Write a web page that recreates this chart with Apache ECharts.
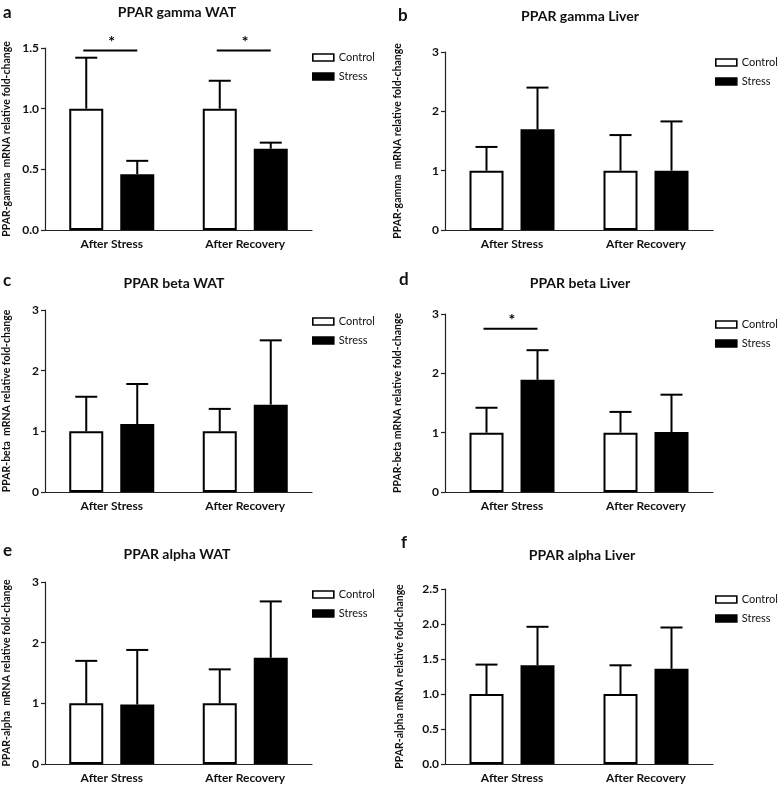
<!DOCTYPE html>
<html>
<head>
<meta charset="utf-8">
<script src="https://cdn.jsdelivr.net/npm/echarts@6/dist/echarts.min.js"></script>
<style>html,body{margin:0;padding:0;background:#fff}#c{width:780px;height:787px}</style>
</head>
<body>
<div id="c"></div>
<script>
// ---------- DATA ----------
const categories = ['After Stress', 'After Recovery'];
const groupNames = ['Control', 'Stress'];
const panelLetters = ['a', 'b', 'c', 'd', 'e', 'f'];
const panelTitles = ['PPAR gamma WAT', 'PPAR gamma Liver', 'PPAR beta WAT', 'PPAR beta Liver', 'PPAR alpha WAT', 'PPAR alpha Liver'];
const yAxisNames = [
  'PPAR-gamma  mRNA relative fold-change',
  'PPAR-gamma  mRNA relative fold-change',
  'PPAR-beta  mRNA relative fold-change',
  'PPAR-beta mRNA relative fold-change',
  'PPAR-alpha  mRNA relative fold-change',
  'PPAR-alpha mRNA relative fold-change'
];
// means [After Stress, After Recovery]
const controlMeans = [[1.0, 1.0], [1.0, 1.0], [1.0, 1.0], [1.0, 1.0], [1.0, 1.0], [1.0, 1.0]];
const stressMeans  = [[0.46, 0.67], [1.70, 1.0], [1.12, 1.44], [1.89, 1.01], [0.98, 1.75], [1.41, 1.36]];
// upper error-bar ends
const controlErrTop = [[1.42, 1.23], [1.40, 1.60], [1.57, 1.37], [1.42, 1.35], [1.70, 1.56], [1.42, 1.41]];
const stressErrTop  = [[0.57, 0.72], [2.40, 1.83], [1.78, 2.50], [2.39, 1.64], [1.88, 2.68], [1.96, 1.95]];
// y-axis ranges / tick steps
const yMax = [1.5, 3, 3, 3, 3, 2.5];
const yStep = [0.5, 1, 1, 1, 1, 0.5];
const yDecimals = [1, 0, 0, 0, 0, 1];
// significance brackets: [panel, category index, height]
const sigMarks = [[0, 0, 1.48], [0, 1, 1.48], [3, 0, 2.75]];

// ---------- LAYOUT ----------
const FONT = 'Lato, "Open Sans", sans-serif';
const grids = [
  {left: 39, top: 48, width: 273, height: 182},
  {left: 445, top: 52, width: 268, height: 178},
  {left: 39, top: 310, width: 273, height: 182},
  {left: 445, top: 314, width: 268, height: 178},
  {left: 39, top: 582, width: 273, height: 182},
  {left: 445, top: 589, width: 268, height: 175}
];
const nameGaps = [33, 42, 33, 42, 33, 40];
const titlePos = [[177, 12], [580, 16], [174, 283], [580, 283], [177, 554], [582, 555]];
const letterPos = [[3, 13], [398, 16], [3, 281], [399, 280], [3, 551], [401, 543]];
const legendPos = [[312, 52], [715, 57], [312, 316], [715, 319], [312, 589], [715, 594]];
const BAR_W = 34, BAR_GAP = 17, OFF = (BAR_W + BAR_GAP) / 2;

const series = [];
const xAxes = [], yAxes = [], legends = [], graphics = [];

for (let p = 0; p < 6; p++) {
  xAxes.push({
    type: 'category', gridIndex: p, data: categories,
    axisLine: {lineStyle: {color: '#222', width: 1.2}},
    axisTick: {alignWithLabel: true, length: 4, lineStyle: {color: '#222', width: 1.2}},
    axisLabel: {color: '#111', fontWeight: 'bold', fontSize: 12, fontFamily: FONT, margin: 8}
  });
  yAxes.push({
    type: 'value', gridIndex: p, min: 0, max: yMax[p], interval: yStep[p],
    name: yAxisNames[p], nameLocation: 'middle', nameGap: nameGaps[p], nameRotate: 90,
    nameTextStyle: {color: '#111', fontWeight: 'bold', fontSize: 10.5, fontFamily: FONT},
    axisLine: {show: true, lineStyle: {color: '#222', width: 1.2}},
    axisTick: {show: true, length: 4, lineStyle: {color: '#222', width: 1.2}},
    splitLine: {show: false},
    axisLabel: {color: '#111', fontWeight: 'bold', fontSize: 12, fontFamily: FONT, margin: 6,
      formatter: (v) => v.toFixed(yDecimals[p])}
  });
  series.push({
    type: 'bar', name: 'Control', xAxisIndex: p, yAxisIndex: p,
    data: controlMeans[p], barWidth: BAR_W, barGap: (BAR_GAP / BAR_W * 100) + '%', z: 3,
    itemStyle: {color: '#fff', borderColor: '#000', borderWidth: 2}
  });
  series.push({
    type: 'bar', name: 'Stress', xAxisIndex: p, yAxisIndex: p,
    data: stressMeans[p], barWidth: BAR_W, z: 3,
    itemStyle: {color: '#000', borderColor: '#000', borderWidth: 2}
  });
  const errData = [];
  for (let c = 0; c < 2; c++) {
    errData.push([c, controlMeans[p][c], controlErrTop[p][c], 0]);
    errData.push([c, stressMeans[p][c], stressErrTop[p][c], 1]);
  }
  series.push({
    type: 'custom', xAxisIndex: p, yAxisIndex: p, z: 2, silent: true,
    data: errData,
    renderItem: (params, api) => {
      const off = api.value(3) === 0 ? -OFF : OFF;
      const a = api.coord([api.value(0), api.value(1)]);
      const b = api.coord([api.value(0), api.value(2)]);
      const x = a[0] + off;
      const st = {stroke: '#000', lineWidth: 2};
      return {type: 'group', children: [
        {type: 'line', shape: {x1: x, y1: a[1], x2: x, y2: b[1]}, style: st},
        {type: 'line', shape: {x1: x - 11, y1: b[1], x2: x + 11, y2: b[1]}, style: st}
      ]};
    }
  });
  const sig = sigMarks.filter(s => s[0] === p).map(s => [s[1], s[2]]);
  if (sig.length) {
    series.push({
      type: 'custom', xAxisIndex: p, yAxisIndex: p, z: 4, silent: true,
      data: sig,
      renderItem: (params, api) => {
        const pt = api.coord([api.value(0), api.value(1)]);
        return {type: 'group', children: [
          {type: 'line', shape: {x1: pt[0] - OFF - 3, y1: pt[1], x2: pt[0] + OFF, y2: pt[1]},
            style: {stroke: '#000', lineWidth: 2}},
          {type: 'text', x: pt[0], y: pt[1] - 1,
            style: {text: '*', fill: '#000', font: 'bold 16px ' + FONT, align: 'center', verticalAlign: 'bottom'}}
        ]};
      }
    });
  }
  legends.push({
    left: legendPos[p][0], top: legendPos[p][1], orient: 'vertical', padding: 0,
    itemWidth: 21, itemHeight: 7, itemGap: 8, icon: 'rect',
    textStyle: {color: '#111', fontSize: 11, fontFamily: FONT},
    data: [
      {name: 'Control', itemStyle: {color: '#fff', borderColor: '#000', borderWidth: 1.6}},
      {name: 'Stress', itemStyle: {color: '#000', borderColor: '#000', borderWidth: 1.6}}
    ],
    selectedMode: false
  });
  graphics.push({
    type: 'text', x: titlePos[p][0], y: titlePos[p][1],
    style: {text: panelTitles[p], font: 'bold 14px ' + FONT, fill: '#111', align: 'center', verticalAlign: 'middle'}
  });
  graphics.push({
    type: 'text', x: letterPos[p][0], y: letterPos[p][1],
    style: {text: panelLetters[p], font: 'bold 17px ' + FONT, fill: '#111', align: 'left', verticalAlign: 'middle'}
  });
}

const chart = echarts.init(document.getElementById('c'), null, {renderer: 'canvas'});
chart.setOption({
  animation: false,
  backgroundColor: '#fff',
  grid: grids,
  xAxis: xAxes,
  yAxis: yAxes,
  legend: legends,
  series: series,
  graphic: graphics
});
</script>
</body>
</html>
